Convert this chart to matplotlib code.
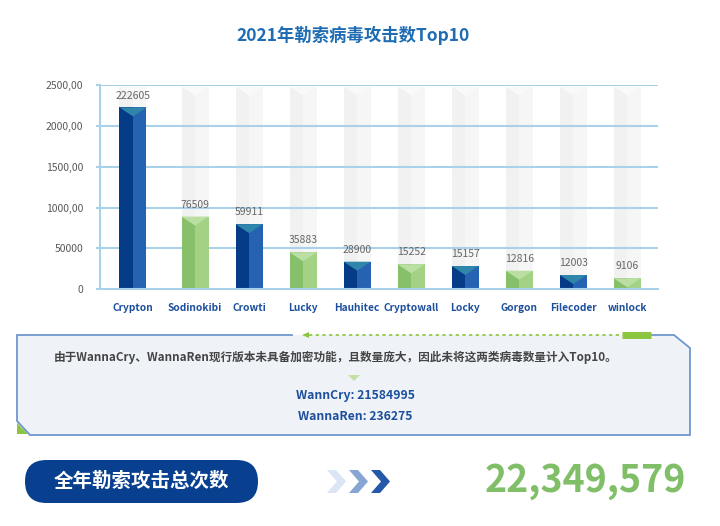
import numpy as np
import matplotlib.pyplot as plt
from matplotlib.patches import Polygon, FancyBboxPatch

plt.rcParams['font.family'] = ['Noto Sans CJK SC', 'DejaVu Sans']

###Data
categories = ['Crypton', 'Sodinokibi', 'Crowti', 'Lucky', 'Hauhitec',
              'Cryptowall', 'Locky', 'Gorgon', 'Filecoder', 'winlock']
counts = [222605, 76509, 59911, 35883, 28900, 15252, 15157, 12816, 12003, 9106]
#bar heights as drawn on the (odd) axis of the original
bar_heights = [2226, 890, 797, 453, 338, 306, 285, 228, 175, 135]
ytick_values = [0, 500, 1000, 1500, 2000, 2500]
ytick_labels = ['0', '50000', '1000,00', '1500,00', '2000,00', '2500,00']

wannacry = 21584995
wannaren = 236275
total_attacks = 22349579

title = '2021年勒索病毒攻击数Top10'
note = '由于WannaCry、WannaRen现行版本未具备加密功能，且数量庞大，因此未将这两类病毒数量计入Top10。'
total_label = '全年勒索攻击总次数'

###Styles
blue = {'left': '#063b88', 'right': '#2662b2', 'top': '#2f86ab'}
green = {'left': '#86c06a', 'right': '#a3d285', 'top': '#bbdfa2'}
grid_col = '#a9d1e8'
W, H = 720, 526

fig = plt.figure(figsize=(W / 100, H / 100), dpi=100)
ax = fig.add_axes([100 / W, 1 - 289.3 / H, 558 / W, (289.3 - 85) / H])

x = np.arange(len(categories)).astype(float)
x[0] -= 0.15
w = 0.5
ax.set_xlim(-0.76, 9.57)
ax.set_ylim(0, 2500)

#gray background columns
bg_top = 2480
ax.bar(x - w / 4, bg_top, width=w / 2, color='#f1f1f1', zorder=0.3)
ax.bar(x + w / 4, bg_top, width=w / 2, color='#f6f6f6', zorder=0.3)
for xi in x:
    ax.add_patch(Polygon([(xi - w / 2, bg_top), (xi + w / 2, bg_top), (xi, bg_top - 110)],
                         closed=True, color='#f9f9f9', lw=0, zorder=0.35))

#grid lines
for v in ytick_values[1:]:
    ax.axhline(v, color=grid_col, lw=1.5, zorder=1)

#bars with fake 3D look
depth = 110
for i, (xi, h) in enumerate(zip(x, bar_heights)):
    c = blue if i % 2 == 0 else green
    ax.bar(xi - w / 4, h, width=w / 2, color=c['left'], zorder=2)
    ax.bar(xi + w / 4, h, width=w / 2, color=c['right'], zorder=2)
    ax.add_patch(Polygon([(xi - w / 2, h), (xi + w / 2, h), (xi, h - depth)],
                         closed=True, color=c['top'], lw=0, zorder=2.5))
    ax.annotate(str(counts[i]), (xi, h), xytext=(0, 8.5), textcoords='offset points',
                ha='center', va='center', fontsize=7.5, color='#666666')

ax.set_yticks(ytick_values, ytick_labels)
ax.set_xticks(x, categories)
ax.tick_params(axis='y', length=3, width=1.5, color=grid_col, pad=9,
               labelsize=7.5, labelcolor='#595959')
ax.tick_params(axis='x', length=0, pad=10, labelsize=7.3, labelcolor='#1d4f9c')
for lab in ax.get_xticklabels():
    lab.set_fontweight('bold')
for s in ['top', 'right']:
    ax.spines[s].set_visible(False)
for s in ['left', 'bottom']:
    ax.spines[s].set_color(grid_col)
    ax.spines[s].set_linewidth(1.5)
ax.patch.set_alpha(0)

fig.text(353 / W, 1 - 35 / H, title, ha='center', va='center', fontsize=12.5,
         fontweight='bold', color='#1f6cb3')

###Lower panel, drawn in pixel coordinates
ov = fig.add_axes([0, 0, 1, 1])
ov.set_xlim(0, W)
ov.set_ylim(H, 0)
ov.axis('off')
ov.patch.set_alpha(0)

box = [(17, 335), (674, 335), (690, 348), (690, 435), (30, 435), (17, 421)]
ov.add_patch(Polygon(box, closed=True, facecolor='#eff3f8', edgecolor='none'))
edge = [(292, 335), (17, 335), (17, 421), (30, 435), (690, 435), (690, 348), (674, 335), (651, 335)]
ex, ey = zip(*edge)
ov.plot(ex, ey, color='#7096cd', lw=1.3, solid_joinstyle='miter')
ov.plot([309, 622], [335, 335], color='#8cc63f', lw=1.2, ls=(0, (2, 2)))
ov.add_patch(Polygon([(302, 335), (309, 332), (309, 338)], closed=True, color='#8cc63f', lw=0))
ov.plot([622, 651], [335, 335], color='#8cc63f', lw=5, solid_capstyle='butt')
ov.add_patch(Polygon([(17, 423), (17, 434), (28, 434)], closed=True, color='#8cc63f', lw=0))
ov.add_patch(Polygon([(348, 375), (360, 375), (354, 381)], closed=True, color='#c2e0a6', lw=0))

ov.text(336, 357, note, ha='center', va='center', fontsize=8.4, fontweight='bold', color='#444444')
ov.text(355, 395, f'WannCry: {wannacry}', ha='center', va='center', fontsize=8.8,
        fontweight='bold', color='#1d4f9c')
ov.text(355, 417, f'WannaRen: {wannaren}', ha='center', va='center', fontsize=8.8,
        fontweight='bold', color='#1d4f9c')

#total row
ov.add_patch(FancyBboxPatch((25, 460), 233, 43, boxstyle='round,pad=0,rounding_size=21.5',
                            facecolor='#08408f', edgecolor='none'))
ov.text(141, 481, total_label, ha='center', va='center', fontsize=14,
        fontweight='bold', color='white')

chev_cols = ['#dbe5f3', '#87a6d4', '#2558a8']
for k, cx in enumerate([327, 349, 371]):
    ov.add_patch(Polygon([(cx, 470), (cx + 9, 470), (cx + 19, 481.5), (cx + 9, 493),
                          (cx, 493), (cx + 10, 481.5)], closed=True, color=chev_cols[k], lw=0))

ov.text(585, 480, f'{total_attacks:,}', ha='center', va='center', fontsize=27,
        fontweight='bold', color='#80bf68')

fig.savefig('out.png', dpi=100)
